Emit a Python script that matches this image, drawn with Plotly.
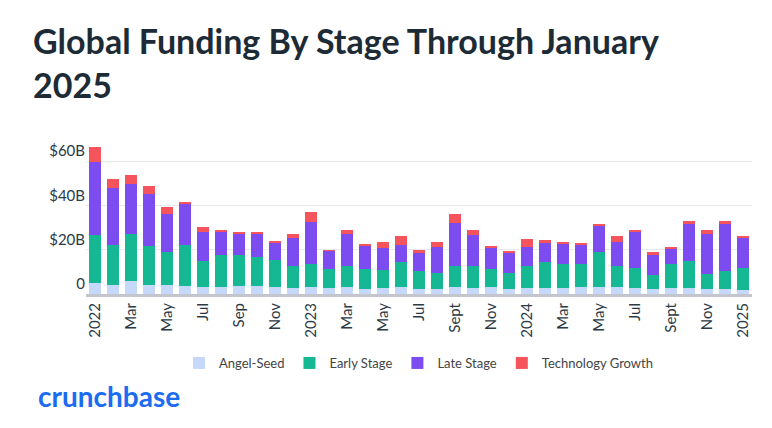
import plotly.graph_objects as go

months = ["2022-%02d" % m for m in range(1, 13)] + ["2023-%02d" % m for m in range(1, 13)] \
    + ["2024-%02d" % m for m in range(1, 13)] + ["2025-01"]

angel_seed = [5, 4.2, 6, 4.2, 4.2, 3.7, 3.2, 3.2, 3.7, 3.7, 3.2, 2.8,
              3.2, 2.8, 3.2, 2.3, 2.8, 3.2, 2.3, 2.3, 3.2, 2.8, 3.2, 2.3,
              2.8, 2.8, 2.8, 3.2, 3.2, 3.2, 2.8, 2.3, 2.8, 2.8, 2.3, 2.3, 1.8]
early_stage = [21.6, 18.1, 21.2, 17.5, 14.7, 18.5, 11.6, 14.3, 13.8, 12.9, 12.0, 10.1,
               10.6, 8.7, 9.7, 9.2, 8.3, 11.1, 8.3, 7.4, 9.3, 9.7, 8.3, 7.4,
               10.1, 11.5, 11.0, 10.6, 15.7, 9.7, 9.2, 6.5, 10.6, 12.0, 6.9, 8.3, 10.2]
late_stage = [33.2, 25.7, 22.6, 23.8, 17.3, 18.6, 13.2, 11.0, 9.9, 10.5, 7.7, 12.3,
              18.8, 8.2, 14.5, 10.5, 9.8, 7.7, 8.3, 11.4, 19.7, 14.1, 9.6, 9.2,
              8.6, 8.6, 9.1, 8.7, 12.3, 10.9, 16.5, 9.0, 7.2, 17.2, 17.9, 21.4, 13.2]
tech_growth = [6.8, 4.2, 4.2, 3.5, 3.2, 0.9, 2.2, 0.3, 0.9, 1.2, 1.3, 1.9,
               4.5, 0.2, 1.5, 0.5, 2.9, 4.2, 0.9, 2.7, 4.0, 2.6, 0.4, 0.5,
               3.3, 1.4, 0.5, 0.4, 0.3, 2.4, 0.7, 1.4, 0.9, 0.9, 2.1, 0.9, 1.0]

tick_labels = ["2022", "Mar", "May", "Jul", "Sep", "Nov",
               "2023", "Mar", "May", "Jul", "Sept", "Nov",
               "2024", "Mar", "May", "Jul", "Sept", "Nov", "2025"]

series = [("Angel-Seed", angel_seed, "#c6d8fa"),
          ("Early Stage", early_stage, "#15b893"),
          ("Late Stage", late_stage, "#7c4cf0"),
          ("Technology Growth", tech_growth, "#f5545c")]

fig = go.Figure()
for name, vals, col in series:
    fig.add_trace(go.Bar(x=months, y=vals, name=name, marker_color=col,
                         marker_line_width=0))

fig.update_layout(
    barmode="stack", bargap=0.35,
    width=772, height=428,
    margin=dict(l=78, r=28, t=136, b=142),
    plot_bgcolor="white", paper_bgcolor="white",
    font=dict(family="Lato", color="#2b3a45", size=14),
    legend=dict(orientation="h", x=0.5, xanchor="center", y=-0.46, yanchor="middle",
                traceorder="normal", font=dict(size=13, color="#444"),
                itemsizing="constant"),
    showlegend=True,
)
fig.add_annotation(text="<b>Global Funding By Stage Through January<br>2025</b>",
                   xref="paper", yref="paper", x=-0.082, y=1.84, xanchor="left", yanchor="top",
                   align="left", showarrow=False,
                   font=dict(size=34, color="#1c2b36", family="Lato"))
fig.update_xaxes(type="category", tickvals=months[::2], ticktext=tick_labels,
                 tickangle=-90, showline=True, linecolor="#c3c6cc", linewidth=3,
                 ticks="", tickfont=dict(size=15, color="#2b3a45"))
fig.update_yaxes(range=[0, 68], tickvals=[0, 20, 40, 60],
                 ticktext=["0", "$20B", "$40B", "$60B"],
                 ticklabelposition="outside top", gridcolor="#e6e8ec",
                 zeroline=False, tickfont=dict(size=15, color="#2b3a45"))
fig.add_annotation(text="<b>crunchbase</b>", xref="paper", yref="paper", x=-0.075, y=-0.68,
                   xanchor="left", yanchor="middle", showarrow=False,
                   font=dict(size=28, color="#1b6cf2", family="Lato"))

fig.write_html("out.html")
